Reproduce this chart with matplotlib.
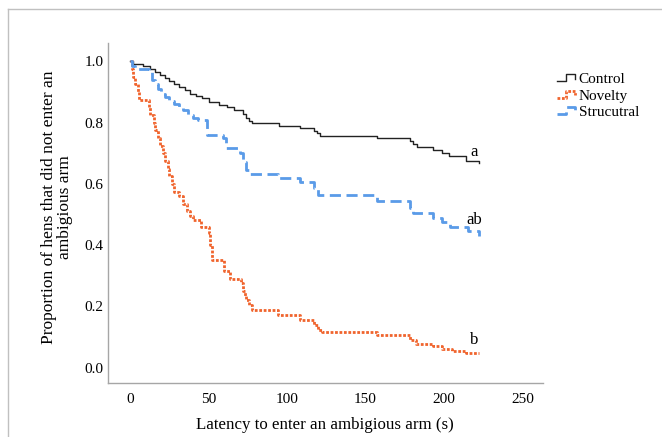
import numpy as np
import matplotlib
matplotlib.use("Agg")
import matplotlib.pyplot as plt
from matplotlib.lines import Line2D
from matplotlib.legend_handler import HandlerLine2D

plt.rcParams['font.family'] = ['Liberation Serif', 'DejaVu Serif']

# Kaplan-Meier style step data (time in s, proportion remaining)
control_t = [0, 2, 8, 13, 16, 19, 22, 25, 28, 31, 35, 38, 42, 46, 50, 57, 62, 66, 72, 74,
             76, 78, 95, 108, 117, 119, 121, 157, 178, 180, 183, 193, 199, 203, 214, 222]
control_s = [1.0, 0.993, 0.985, 0.975, 0.965, 0.955, 0.945, 0.935, 0.925, 0.915, 0.905,
             0.895, 0.888, 0.880, 0.868, 0.858, 0.850, 0.840, 0.828, 0.815, 0.805, 0.798,
             0.790, 0.782, 0.772, 0.765, 0.758, 0.749, 0.740, 0.730, 0.720, 0.712, 0.700,
             0.690, 0.676, 0.668]

struct_t = [0, 1, 3, 12, 14, 16, 18, 20, 22, 25, 28, 31, 34, 37, 40, 43, 49, 59, 61, 70,
            72, 74, 76, 94, 108, 117, 120, 157, 178, 180, 193, 199, 204, 215, 222]
struct_s = [1.0, 0.985, 0.975, 0.965, 0.94, 0.925, 0.91, 0.895, 0.885, 0.87, 0.86, 0.85,
            0.84, 0.825, 0.815, 0.81, 0.76, 0.75, 0.718, 0.70, 0.67, 0.645, 0.633, 0.62,
            0.605, 0.585, 0.565, 0.545, 0.52, 0.505, 0.49, 0.475, 0.46, 0.445, 0.43]

novelty_t = [0, 1, 2, 3, 5, 6, 12, 13, 15, 16, 18, 19, 21, 22, 24, 25, 27, 28, 31, 34,
             36, 38, 40, 45, 50, 51, 52, 60, 64, 71, 72, 73, 74, 76, 78, 94, 108, 117,
             120, 122, 157, 178, 182, 193, 199, 205, 214, 222]
novelty_s = [1.0, 0.975, 0.95, 0.925, 0.9, 0.875, 0.85, 0.825, 0.8, 0.775, 0.75, 0.725,
             0.70, 0.675, 0.65, 0.625, 0.6, 0.575, 0.56, 0.535, 0.51, 0.495, 0.483, 0.46,
             0.44, 0.40, 0.35, 0.315, 0.29, 0.275, 0.25, 0.235, 0.22, 0.205, 0.188, 0.172,
             0.157, 0.14, 0.123, 0.118, 0.108, 0.09, 0.078, 0.07, 0.06, 0.053, 0.048, 0.048]

group_letters = ['a', 'ab', 'b']
letter_pos = [(219, 0.705), (219, 0.483), (219, 0.091)]

x_ticks = [0, 50, 100, 150, 200, 250]
y_ticks = [0.0, 0.2, 0.4, 0.6, 0.8, 1.0]


class StepHandler(HandlerLine2D):
    # SPSS-like little step glyph in the legend
    def create_artists(self, legend, orig_handle, xdescent, ydescent, width, height,
                       fontsize, trans):
        xs = np.array([0, 0.45, 0.45, 0.9, 0.9]) * width - xdescent
        ys = np.array([0.2, 0.2, 0.85, 0.85, 0.45]) * height - ydescent
        line = Line2D(xs, ys)
        self.update_prop(line, orig_handle, legend)
        line.set_transform(trans)
        return [line]


fig = plt.figure(figsize=(6.62, 4.37), dpi=100)
ax = fig.add_axes([108/662, 1 - 383/437, 435/662, 340/437])

orange = '#F0642D'
blue = '#5A9BE8'

l1, = ax.plot(control_t, control_s, drawstyle='steps-post', color='#222222', lw=1.0,
              label='Control')
l2, = ax.plot(novelty_t, novelty_s, drawstyle='steps-post', color=orange, lw=2.0,
              dashes=(1, 0.6), label='Novelty')
l3, = ax.plot(struct_t, struct_s, drawstyle='steps-post', color=blue, lw=2.0,
              dashes=(4, 2), label='Strucutral')

for txt, (x, y) in zip(group_letters, letter_pos):
    ax.text(x, y, txt, fontsize=12, ha='center', va='center')

ax.set_xlim(-14, 263)
ax.set_ylim(-0.05, 1.06)
ax.set_xticks(x_ticks)
ax.set_yticks(y_ticks)
ax.set_yticklabels([f'{v:.1f}' for v in y_ticks])
ax.tick_params(length=0, labelsize=11)
ax.tick_params(axis='x', pad=7)
ax.tick_params(axis='y', pad=3)
for side in ['top', 'right']:
    ax.spines[side].set_visible(False)
for side in ['left', 'bottom']:
    ax.spines[side].set_color('#a6a6a6')
    ax.spines[side].set_linewidth(1.0)

fig.text(57/662, 1 - 207/437,
         'Proportion of hens that did not enter an\nambigious arm',
         rotation=90, ha='center', va='center', fontsize=12.5, linespacing=1.0)
fig.text(325/662, 1 - 425/437, 'Latency to enter an ambigious arm (s)',
         ha='center', va='center', fontsize=12.2)

fig.legend(handles=[l1, l2, l3], loc='upper left', bbox_to_anchor=(549/662, 1 - 65/437),
           frameon=False, fontsize=11, handlelength=1.3, handletextpad=0.15,
           labelspacing=0.18, borderpad=0,
           handler_map={Line2D: StepHandler()})

# light grey frame (top and left edge) as in the exported figure
fig.add_artist(Line2D([8/662, 1], [1 - 9/437, 1 - 9/437], color='#c0c0c0', lw=1))
fig.add_artist(Line2D([8/662, 8/662], [0, 1 - 9/437], color='#c0c0c0', lw=1))

fig.savefig('out.png', dpi=100)
